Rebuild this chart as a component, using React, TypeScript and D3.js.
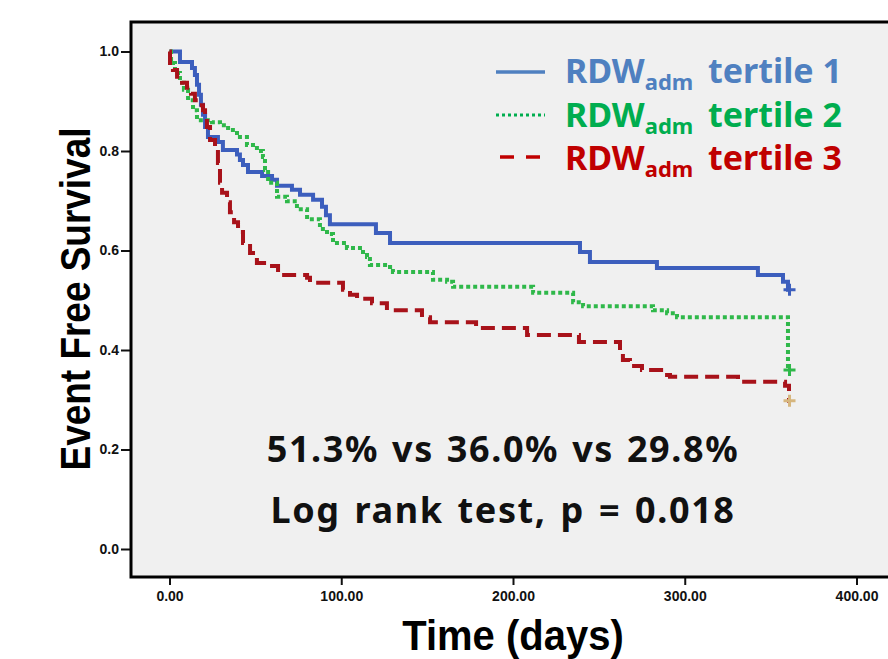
import React, { useEffect, useRef } from "react";
import * as d3 from "d3";

// Kaplan-Meier steps: [time in days, survival after the drop]
const tertile1 = [
  [6.1, 0.979], [13.1, 0.967], [14.8, 0.953], [16.0, 0.933], [17.2, 0.913],
  [18.3, 0.893], [19.5, 0.873], [20.7, 0.848], [22.4, 0.828], [28.2, 0.818],
  [31.1, 0.802], [39.3, 0.793], [41.0, 0.782], [42.8, 0.772], [45.7, 0.758],
  [53.9, 0.75], [59.7, 0.742], [62.6, 0.73], [71.3, 0.722], [76.0, 0.712],
  [83.6, 0.702], [88.8, 0.688], [91.1, 0.671], [93.4, 0.653], [120.2, 0.635],
  [128.4, 0.615], [239.0, 0.597], [244.8, 0.577], [283.8, 0.565], [342.6, 0.551],
  [357.2, 0.537], [360.1, 0.521],
];
const tertile2 = [
  [0.9, 0.977], [3.2, 0.957], [6.1, 0.937], [8.4, 0.923], [10.8, 0.902],
  [13.7, 0.882], [16.0, 0.862], [24.7, 0.858], [29.4, 0.852], [34.1, 0.842],
  [39.3, 0.828], [45.1, 0.812], [50.9, 0.8], [54.4, 0.788], [55.6, 0.762],
  [57.4, 0.736], [62.6, 0.708], [68.4, 0.699], [74.2, 0.683], [80.1, 0.663],
  [87.6, 0.643], [91.7, 0.633], [95.2, 0.615], [103.3, 0.605], [110.9, 0.597],
  [115.0, 0.587], [116.7, 0.571], [128.4, 0.567], [130.1, 0.557], [153.4, 0.541],
  [161.6, 0.537], [165.1, 0.527], [211.7, 0.515], [235.0, 0.496], [240.8, 0.488],
  [281.5, 0.48], [289.7, 0.474], [295.5, 0.466], [360.1, 0.36],
];
const tertile3 = [
  [0.3, 0.977], [2.0, 0.963], [4.4, 0.949], [7.3, 0.937], [10.2, 0.927],
  [12.5, 0.915], [14.8, 0.902], [17.2, 0.892], [19.5, 0.882], [20.7, 0.866],
  [21.8, 0.848], [23.6, 0.822], [26.5, 0.802], [28.2, 0.776], [29.4, 0.736],
  [30.6, 0.716], [33.5, 0.697], [35.2, 0.677], [37.6, 0.657], [39.9, 0.637],
  [42.8, 0.615], [46.9, 0.595], [50.9, 0.575], [59.7, 0.569], [63.2, 0.551],
  [80.1, 0.545], [81.8, 0.535], [101.0, 0.521], [105.1, 0.511], [109.2, 0.503],
  [117.9, 0.494], [126.6, 0.48], [147.0, 0.466], [151.7, 0.456], [178.5, 0.444],
  [208.2, 0.43], [238.4, 0.416], [262.3, 0.396], [264.0, 0.38], [268.1, 0.368],
  [275.1, 0.36], [289.7, 0.35], [291.4, 0.346], [331.0, 0.336], [358.4, 0.328],
  [360.7, 0.298],
];
const endTime = 361;

const xTicks = [0, 100, 200, 300, 400];
const yTicks = [0, 0.2, 0.4, 0.6, 0.8, 1.0];
const legendNames = ["tertile 1", "tertile 2", "tertile 3"];
const statLine = "51.3% vs 36.0% vs 29.8%";
const testLine = "Log rank test, p = 0.018";

const series = [
  { data: tertile1, color: "#3c5ebd", legend: "#4f80c0", dash: null, censor: "#3c5ebd" },
  { data: tertile2, color: "#2fb84a", legend: "#00ad4f", dash: "4,3", censor: "#2fb84a" },
  { data: tertile3, color: "#a8121a", legend: "#c00000", dash: "14,7", censor: "#d6b67e" },
];

export default function App() {
  const svgRef = useRef<SVGSVGElement>(null);

  useEffect(() => {
    const svg = d3.select(svgRef.current);
    svg.selectAll("*").remove();

    const left = 131;
    const top = 22;
    const bottom = 577;
    const W = 888;

    const x = d3.scaleLinear().domain([0, 400]).range([169.5, 856.5]);
    const y = d3.scaleLinear().domain([0, 1]).range([549, 51.5]);

    svg
      .append("rect")
      .attr("x", left)
      .attr("y", top)
      .attr("width", W - left + 10)
      .attr("height", bottom - top)
      .attr("fill", "#f0f0f0");

    // axes
    const yAxis = d3
      .axisLeft(y)
      .tickValues(yTicks)
      .tickSize(10)
      .tickPadding(2)
      .tickFormat(d3.format(".1f"));
    const gy = svg.append("g").attr("transform", `translate(${left},0)`).call(yAxis);
    gy.select(".domain").remove();

    const xAxis = d3
      .axisBottom(x)
      .tickValues(xTicks)
      .tickSize(8)
      .tickPadding(6)
      .tickFormat(d3.format(".2f"));
    const gx = svg.append("g").attr("transform", `translate(0,${bottom})`).call(xAxis);
    gx.select(".domain").remove();

    svg.selectAll(".tick line").attr("stroke", "#111").attr("stroke-width", 2);
    svg
      .selectAll(".tick text")
      .attr("fill", "#111")
      .attr("font-family", "Liberation Sans, Arial, sans-serif")
      .attr("font-weight", "bold")
      .attr("font-size", "14px");

    // frame
    svg
      .append("path")
      .attr("d", `M${W + 10},${top}H${left}V${bottom}H${W + 10}`)
      .attr("fill", "none")
      .attr("stroke", "#000")
      .attr("stroke-width", 3);

    // curves
    const line = d3
      .line<number[]>()
      .x((d) => x(d[0]))
      .y((d) => y(d[1]))
      .curve(d3.curveStepAfter);

    series.forEach((s) => {
      const last = s.data[s.data.length - 1][1];
      const pts = [[0, 1], ...s.data, [endTime, last]];
      svg
        .append("path")
        .attr("d", line(pts))
        .attr("fill", "none")
        .attr("stroke", s.color)
        .attr("stroke-width", 4)
        .attr("stroke-dasharray", s.dash);
      const cx = x(endTime);
      const cy = y(last);
      svg
        .append("path")
        .attr("d", `M${cx - 6},${cy}H${cx + 6}M${cx},${cy - 6}V${cy + 6}`)
        .attr("stroke", s.censor)
        .attr("stroke-width", 3);
    });

    // legend
    const legendY = [72, 115, 157];
    const baseY = [83, 127, 170];
    series.forEach((s, i) => {
      svg
        .append("line")
        .attr("x1", i === 2 ? 500 : 496)
        .attr("x2", 545)
        .attr("y1", legendY[i])
        .attr("y2", legendY[i])
        .attr("stroke", s.legend)
        .attr("stroke-width", i === 1 ? 3 : 3.5)
        .attr("stroke-dasharray", i === 0 ? null : i === 1 ? "3,3" : "14,12");
      const t = svg
        .append("text")
        .attr("x", 565)
        .attr("y", baseY[i])
        .attr("fill", s.legend)
        .attr("font-family", "Noto Sans, sans-serif")
        .attr("font-weight", "bold")
        .attr("font-size", "34px");
      t.append("tspan").text("RDW");
      t.append("tspan").attr("font-size", "22px").attr("dy", 7).text("adm");
      t.append("tspan").attr("x", 708).attr("dy", -7).text(legendNames[i]);
    });

    // annotations
    [statLine, testLine].forEach((txt, i) => {
      svg
        .append("text")
        .attr("x", 503)
        .attr("y", i === 0 ? 462 : 523)
        .attr("text-anchor", "middle")
        .attr("fill", "#111")
        .attr("font-family", "Noto Sans, sans-serif")
        .attr("font-weight", "bold")
        .attr("font-size", "36px")
        .attr("letter-spacing", i === 0 ? "1.6px" : "1.6px")
        .attr("word-spacing", i === 0 ? "2px" : "3px")
        .text(txt);
    });

    // axis titles
    svg
      .append("text")
      .attr("transform", "translate(90,299) rotate(-90) scale(0.88,1)")
      .attr("text-anchor", "middle")
      .attr("fill", "#000")
      .attr("font-family", "Liberation Sans, Arial, sans-serif")
      .attr("font-weight", "bold")
      .attr("font-size", "42px")
      .text("Event Free Survival");

    svg
      .append("text")
      .attr("transform", "translate(513,650) scale(0.93,1)")
      .attr("text-anchor", "middle")
      .attr("fill", "#000")
      .attr("font-family", "Liberation Sans, Arial, sans-serif")
      .attr("font-weight", "bold")
      .attr("font-size", "43px")
      .text("Time (days)");
  }, []);

  return (
    <svg
      ref={svgRef}
      width={888}
      height={659}
      style={{ position: "absolute", left: 0, top: 0, background: "#fff" }}
    />
  );
}
